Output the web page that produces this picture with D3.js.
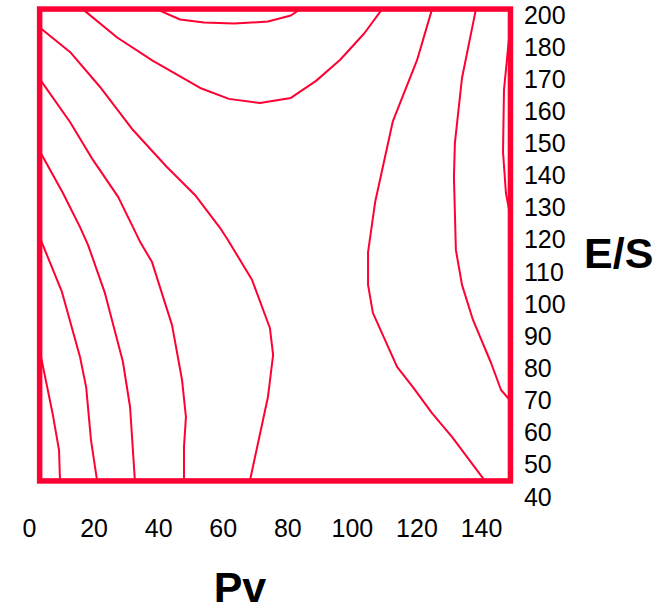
<!DOCTYPE html>
<html>
<head>
<meta charset="utf-8">
<script src="https://cdn.jsdelivr.net/npm/d3@7"></script>
<style>
  html, body { margin: 0; padding: 0; background: #fff; }
  svg { display: block; }
  text { font-family: "Liberation Sans", Arial, sans-serif; fill: #000; }
</style>
</head>
<body>
<svg id="chart" width="666" height="607"></svg>
<script>
// Axis ticks
const pvTicks = [0, 20, 40, 60, 80, 100, 120, 140];
const esTicks = [40, 50, 60, 70, 80, 90, 100, 110, 120, 130, 140, 150, 160, 170, 180, 200];

// Extent of the sampled grid (Pv, E/S)
const pvExtent = [3.3, 149.1];
const esExtent = [45, 203.7];

// Contour lines, each as [Pv, E/S] vertices
const isoTopSmall = [[39.6,203.5],[46.8,197.2],[54.2,195.3],[63.5,194.7],[74.0,195.9],[81.1,199.7],[83.9,203.5]];
const isoTopLarge = [[16.7,203.5],[27.3,186.0],[38.4,175.7],[53.0,167.3],[61.9,163.9],[71.5,162.6],[81.1,164.2],[88.9,169.5],[96.3,176.0],[103.8,188.5],[109.3,203.5]];
const isoLeft1 = [[3.3,192.2],[12.7,178.5],[22.0,167.6],[32.2,154.2],[42.7,142.7],[51.4,134.0],[59.2,123.7],[61.6,120.0],[69.1,107.5],[74.6,92.6],[75.6,84.2],[74.0,71.1],[68.4,45.0]];
const isoLeft2 = [[3.3,170.1],[12.7,156.7],[19.8,144.9],[27.6,133.4],[32.2,124.0],[34.4,119.4],[38.1,113.1],[44.3,93.5],[47.4,76.4],[48.6,64.9],[48.0,55.6],[48.0,45.0]];
const isoLeft3 = [[3.3,147.7],[10.5,134.6],[15.8,124.0],[18.3,118.4],[23.5,103.5],[29.1,82.0],[31.3,68.0],[32.8,45.0]];
const isoLeft4 = [[3.3,120.9],[10.2,103.8],[15.8,83.6],[17.7,74.2],[19.2,57.7],[21.1,45.0]];
const isoLeft5 = [[3.3,85.7],[7.4,65.5],[9.3,54.6],[9.6,45.0]];
const isoRight1 = [[124.8,203.5],[120.2,176.0],[112.7,157.0],[107.2,131.8],[105.0,116.2],[105.0,106.0],[106.5,97.3],[114.0,80.5],[118.9,74.2],[124.8,66.1],[131.0,58.7],[141.2,45.0]];
const isoRight2 = [[138.4,203.5],[134.1,170.4],[131.9,150.2],[131.6,139.6],[132.2,116.9],[134.1,106.0],[137.5,95.1],[143.1,81.7],[146.2,73.3],[149.1,69.9]];
const isoRight3 = [[149.1,194.1],[148.3,179.1],[147.1,166.7],[146.8,147.4],[147.7,134.6],[149.1,127.1]];

const isolines = [isoTopSmall, isoTopLarge, isoLeft1, isoLeft2, isoLeft3, isoLeft4, isoLeft5, isoRight1, isoRight2, isoRight3];

const red = "#ff0033";

const svg = d3.select("#chart");

const x = d3.scaleLinear().domain([0, 150]).range([29, 29 + 150 * 3.229]);

// Evenly spaced E/S ticks (piecewise-linear between tick values)
const yTop = 15, yBottom = 497;
const step = (yBottom - yTop) / (esTicks.length - 1);
const y = d3.scaleLinear()
  .domain(esTicks)
  .range(esTicks.map((_, i) => yBottom - i * step));

const line = d3.line().x(d => x(d[0])).y(d => y(d[1]));

svg.append("g")
  .selectAll("path")
  .data(isolines)
  .join("path")
  .attr("d", line)
  .attr("fill", "none")
  .attr("stroke", red)
  .attr("stroke-width", 2)
  .attr("stroke-linejoin", "round");

// Grid frame
svg.append("rect")
  .attr("x", x(pvExtent[0]))
  .attr("y", y(esExtent[1]))
  .attr("width", x(pvExtent[1]) - x(pvExtent[0]))
  .attr("height", y(esExtent[0]) - y(esExtent[1]))
  .attr("fill", "none")
  .attr("stroke", red)
  .attr("stroke-width", 5.5);

// Axes (labels only)
const xAxis = svg.append("g")
  .attr("transform", `translate(0,${y(esExtent[0])})`)
  .call(d3.axisBottom(x).tickValues(pvTicks).tickSize(0).tickPadding(38));
const yAxis = svg.append("g")
  .attr("transform", `translate(${x(pvExtent[1])},0)`)
  .call(d3.axisRight(y).tickValues(esTicks).tickSize(0).tickPadding(13.5));

[xAxis, yAxis].forEach(g => {
  g.select(".domain").remove();
  g.selectAll("text")
    .attr("fill", "#000")
    .style("font-family", '"Liberation Sans", Arial, sans-serif')
    .style("font-size", "25px");
});

// Axis titles
svg.append("text")
  .attr("x", 240)
  .attr("y", 602)
  .attr("text-anchor", "middle")
  .style("font-size", "43px")
  .style("font-weight", "bold")
  .text("Pv");

svg.append("text")
  .attr("x", 584)
  .attr("y", 268)
  .attr("text-anchor", "start")
  .style("font-size", "43px")
  .style("font-weight", "bold")
  .text("E/S");
</script>
</body>
</html>
